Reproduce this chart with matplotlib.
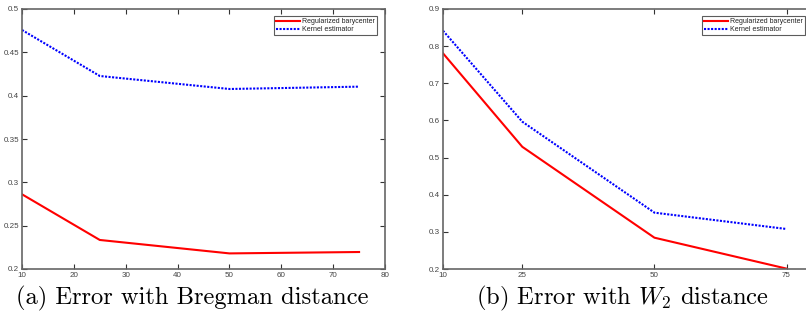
import matplotlib
matplotlib.use("Agg")
import matplotlib.pyplot as plt

x_vals = [10, 25, 50, 75]
bregman_reg = [0.2862, 0.2335, 0.2180, 0.2196]
bregman_kernel = [0.4758, 0.4227, 0.4077, 0.4104]
w2_reg = [0.7807, 0.5290, 0.2843, 0.2010]
w2_kernel = [0.8416, 0.5966, 0.3517, 0.3077]

left_xticks = [10, 20, 30, 40, 50, 60, 70, 80]
left_yticks = [0.2, 0.25, 0.3, 0.35, 0.4, 0.45, 0.5]
right_xticks = [10, 25, 50, 75]
right_yticks = [0.2, 0.3, 0.4, 0.5, 0.6, 0.7, 0.8, 0.9]
series_labels = ["Regularized barycenter", "Kernel estimator"]
captions = ["(a) Error with Bregman distance", "(b) Error with $W_2$ distance"]

plt.rcParams['mathtext.fontset'] = 'cm'
plt.rcParams['font.family'] = ['Liberation Sans', 'DejaVu Sans']

W, H = 806, 320
fig = plt.figure(figsize=(W / 100, H / 100), dpi=100)

axL = fig.add_axes([22 / W, 1 - 269 / H, 363 / W, 260 / H])
axR = fig.add_axes([443 / W, 1 - 269 / H, 370 / W, 260 / H])

gray = '#666666'

def style(ax, xticks, yticks, xlim, ylim):
    ax.set_xlim(*xlim)
    ax.set_ylim(*ylim)
    ax.set_xticks(xticks)
    ax.set_yticks(yticks)
    ax.set_xticklabels([f"{t:g}" for t in xticks])
    ax.set_yticklabels([f"{t:g}" for t in yticks])
    ax.tick_params(direction='in', top=True, right=True, length=3.5, width=0.8,
                   colors='#333333', labelsize=5.8, labelcolor='#444444', pad=2)
    for sp in ax.spines.values():
        sp.set_color(gray)
        sp.set_linewidth(1.2)

for ax, reg, ker in [(axL, bregman_reg, bregman_kernel), (axR, w2_reg, w2_kernel)]:
    ax.plot(x_vals, reg, color='#ff0000', lw=1.5, label=series_labels[0])
    ax.plot(x_vals, ker, color='#0000ff', lw=1.5, linestyle=(0, (1, 0.7)), label=series_labels[1])

style(axL, left_xticks, left_yticks, (10, 80), (0.2, 0.5))
style(axR, right_xticks, right_yticks, (10, 80), (0.2, 0.9))

for ax, w in [(axL, 363), (axR, 370)]:
    leg = ax.legend(loc='upper right', bbox_to_anchor=(1 - 8 / w, 1 - 7 / 260),
                    borderaxespad=0, fontsize=5, frameon=True, fancybox=False,
                    handlelength=3.5, handletextpad=0.3, borderpad=0.3,
                    labelspacing=0.15)
    leg.get_frame().set_edgecolor('#333333')
    leg.get_frame().set_linewidth(0.8)
    for t in leg.get_texts():
        t.set_color('#222222')

fig.text(192 / W, 1 - 298 / H, captions[0], ha='center', va='center',
         family='cmr10', fontsize=17.7)
fig.text(622 / W, 1 - 298 / H, captions[1], ha='center', va='center',
         family='cmr10', fontsize=17.7)

fig.savefig("out.png", dpi=100)
